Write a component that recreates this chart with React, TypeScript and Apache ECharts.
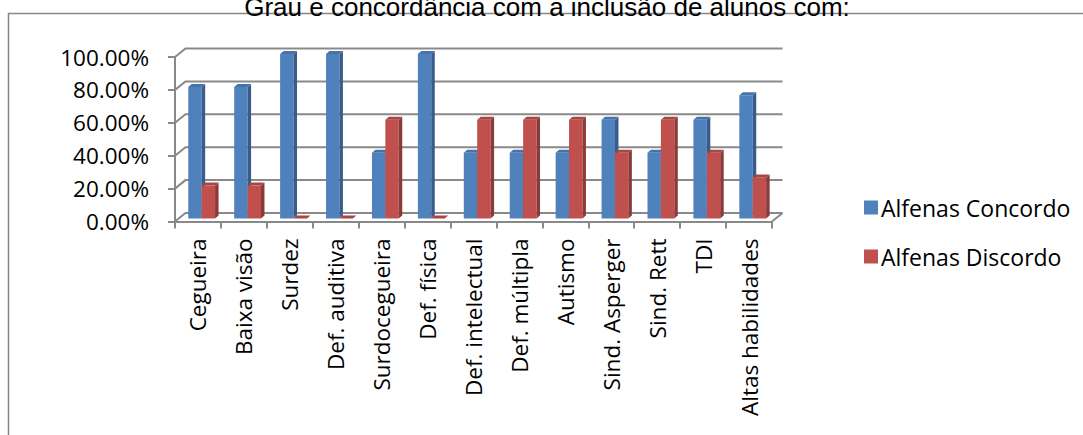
import React, { useEffect, useRef } from "react";
import * as echarts from "echarts";

const categories = [
  "Cegueira",
  "Baixa visão",
  "Surdez",
  "Def. auditiva",
  "Surdocegueira",
  "Def. física",
  "Def. intelectual",
  "Def. múltipla",
  "Autismo",
  "Sind. Asperger",
  "Sind. Rett",
  "TDI",
  "Altas habilidades",
];
const concordo = [80, 80, 100, 100, 40, 100, 40, 40, 40, 60, 40, 60, 75];
const discordo = [20, 20, 0, 0, 60, 0, 60, 60, 60, 40, 60, 40, 25];
const yTicks = [0, 20, 40, 60, 80, 100];

const titleText = "Grau e concordância com a inclusão de alunos com:";
const seriesNames = ["Alfenas Concordo", "Alfenas Discordo"];

// pseudo-3D geometry
const WALL_DX = 10.5;
const WALL_DY = 8.5;
const BAR_W = 13.4;
const BAR_DX = 3.5;
const BAR_DY = 3;
const FACE_DY = -3;
const GRID_COLOR = "#898989";
const FONT = "'Open Sans', 'Noto Sans', sans-serif";

type Faces = { front: string; side: string; top: string };
const blueFaces: Faces = { front: "#4F81BD", side: "#385D8A", top: "#4673AA" };
const redFaces: Faces = { front: "#C0504D", side: "#8C3A38", top: "#A94543" };

function barRenderer(offset: number, faces: Faces) {
  return (params: any, api: any) => {
    const idx = api.value(0);
    const v = api.value(1);
    const base = api.coord([idx, 0]);
    const top = api.coord([idx, v]);
    const x0 = base[0] + offset;
    const x1 = x0 + BAR_W;
    const yb = base[1] + FACE_DY;
    const yt = top[1] + FACE_DY;
    const children: any[] = [];
    if (yb - yt > 0.5) {
      children.push({
        type: "rect",
        shape: { x: x0, y: yt, width: BAR_W, height: yb - yt },
        style: { fill: faces.front },
      });
      children.push({
        type: "polygon",
        shape: {
          points: [
            [x1, yt],
            [x1 + BAR_DX, yt - BAR_DY],
            [x1 + BAR_DX, yb - BAR_DY],
            [x1, yb],
          ],
        },
        style: { fill: faces.side },
      });
    }
    children.push({
      type: "polygon",
      shape: {
        points: [
          [x0, yt],
          [x0 + BAR_DX, yt - BAR_DY],
          [x1 + BAR_DX, yt - BAR_DY],
          [x1, yt],
        ],
      },
      style: { fill: faces.top },
    });
    return { type: "group", children };
  };
}

function wallRenderer(params: any, api: any) {
  const v = api.value(1);
  const y = api.coord([0, v])[1];
  const cs = params.coordSys;
  const x0 = cs.x;
  const x1 = cs.x + cs.width;
  const style = { stroke: GRID_COLOR, lineWidth: 2, fill: "none" };
  const children: any[] = [
    {
      type: "polyline",
      shape: {
        points: [
          [x0, y],
          [x0 + WALL_DX, y - WALL_DY],
          [x1 + WALL_DX, y - WALL_DY],
        ],
      },
      style,
    },
  ];
  if (v === 0) {
    children.push({
      type: "line",
      shape: { x1: x1, y1: y, x2: x1 + WALL_DX, y2: y - WALL_DY },
      style,
    });
  }
  return { type: "group", children };
}

export default function App() {
  const ref = useRef<HTMLDivElement>(null);

  useEffect(() => {
    if (!ref.current) return;
    const chart = echarts.init(ref.current, undefined, { renderer: "svg" });
    chart.setOption({
      animation: false,
      backgroundColor: "#ffffff",
      textStyle: { fontFamily: FONT },
      graphic: [
        {
          type: "rect",
          silent: true,
          z: -10,
          shape: { x: 8.5, y: 13.5, width: 1200, height: 600 },
          style: { fill: "none", stroke: "#868686", lineWidth: 1.5 },
        },
        {
          type: "text",
          x: 547,
          y: 20,
          style: {
            text: titleText,
            fontFamily: "'Liberation Sans', Arial, sans-serif",
            fontSize: 26,
            fill: "#000000",
            textAlign: "center",
            textVerticalAlign: "bottom",
          },
        },
      ],
      legend: {
        orient: "vertical",
        left: 859,
        top: 190,
        itemWidth: 14,
        itemHeight: 14,
        itemGap: 24,
        icon: "rect",
        data: seriesNames,
        textStyle: {
          fontSize: 23,
          lineHeight: 25,
          color: "#000",
          fontFamily: FONT,
          padding: [0, 0, 0, -2],
        },
      },
      grid: { left: 175, right: 311, top: 57, bottom: 213.5 },
      xAxis: {
        type: "category",
        data: categories,
        boundaryGap: true,
        axisLine: { show: true, lineStyle: { color: GRID_COLOR, width: 2 } },
        axisTick: { show: true, length: 7, lineStyle: { color: GRID_COLOR, width: 2 } },
        axisLabel: {
          rotate: 90,
          margin: 17,
          fontSize: 22.5,
          color: "#000",
          fontFamily: FONT,
          interval: 0,
        },
      },
      yAxis: {
        type: "value",
        min: 0,
        max: 100,
        interval: 20,
        axisLine: { show: true, lineStyle: { color: GRID_COLOR, width: 2 } },
        axisTick: { show: true, length: 7, lineStyle: { color: GRID_COLOR, width: 2 } },
        splitLine: { show: false },
        axisLabel: {
          margin: 26,
          fontSize: 22.5,
          color: "#000",
          fontFamily: FONT,
          formatter: (v: number) => v.toFixed(2) + "%",
        },
      },
      series: [
        {
          type: "custom",
          name: "wall",
          silent: true,
          z: 1,
          renderItem: wallRenderer,
          data: yTicks.map((v) => [0, v]),
          tooltip: { show: false },
        },
        {
          type: "custom",
          name: seriesNames[0],
          z: 2,
          itemStyle: { color: blueFaces.front },
          renderItem: barRenderer(-9.7, blueFaces),
          data: concordo.map((v, i) => [i, v]),
        },
        {
          type: "custom",
          name: seriesNames[1],
          z: 3,
          itemStyle: { color: redFaces.front },
          renderItem: barRenderer(-9.7 + BAR_W, redFaces),
          data: discordo.map((v, i) => [i, v]),
        },
      ],
    });
    return () => chart.dispose();
  }, []);

  return (
    <div
      ref={ref}
      style={{ position: "absolute", left: 0, top: 0, width: 1083, height: 435 }}
    />
  );
}
